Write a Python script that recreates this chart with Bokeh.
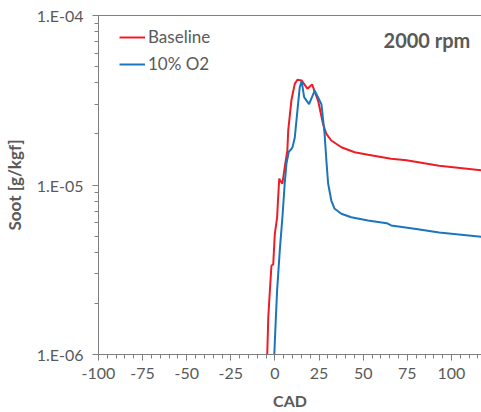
from bokeh.plotting import figure
from bokeh.models import (FixedTicker, CustomJSTickFormatter, Legend, LegendItem,
                          Label, Span, Range1d)
from bokeh.embed import file_html
from bokeh.resources import INLINE

# ---- data ----
baseline_cad = [-4.4, -3.8, -2.9, -2.0, -1.0, -0.1, 1.2, 1.8, 2.4, 3.3, 4.2, 5.5, 7.0, 7.5,
                9.3, 11.2, 12.7, 15.0, 18.4, 21.0, 24.4, 27.2, 29.1, 31.9, 37.6, 45.1,
                52.7, 65.8, 74.5, 93, 117]
baseline_soot = [1.0e-6, 1.66e-6, 2.39e-6, 3.35e-6, 3.4e-6, 5.15e-6, 6.45e-6, 8.5e-6,
                 1.09e-5, 1.05e-5, 1.02e-5, 1.27e-5, 1.6e-5, 2.1e-5, 3.16e-5, 3.95e-5,
                 4.18e-5, 4.14e-5, 3.7e-5, 3.92e-5, 3.15e-5, 2.3e-5, 2.0e-5, 1.83e-5,
                 1.67e-5, 1.56e-5, 1.51e-5, 1.43e-5, 1.4e-5, 1.3e-5, 1.22e-5]

o2_cad = [-0.4, 0.5, 1.2, 2.7, 4.2, 5.5, 6.5, 7.8, 9.3, 9.9, 11.2, 12.7, 14.0, 15.1, 16.5,
          19.3, 22.5, 24.0, 26.3, 28.1, 29.1, 30.1, 31.9, 33.8, 37.6, 43.2, 52.7, 63.3,
          65.8, 80, 93, 117]
o2_soot = [1.0e-6, 1.66e-6, 2.39e-6, 4.1e-6, 6.45e-6, 1.02e-5, 1.34e-5, 1.57e-5, 1.63e-5,
           1.67e-5, 1.9e-5, 2.75e-5, 3.77e-5, 4.1e-5, 3.3e-5, 3.0e-5, 3.6e-5, 3.35e-5,
           3.0e-5, 2.0e-5, 1.4e-5, 1.02e-5, 8.1e-6, 7.24e-6, 6.77e-6, 6.45e-6, 6.18e-6,
           5.95e-6, 5.77e-6, 5.5e-6, 5.25e-6, 4.94e-6]

series_names = ["Baseline", "10% O2"]
x_major_ticks = [-100, -75, -50, -25, 0, 25, 50, 75, 100]
y_major_ticks = [1e-6, 1e-5, 1e-4]

GRAY = "#595959"
FONT = "Lato"

p = figure(width=481, height=412, y_axis_type="log", output_backend="svg",
           toolbar_location=None, x_range=Range1d(-100, 117),
           y_range=Range1d(1e-6, 1e-4),
           min_border_left=96, min_border_right=0, min_border_top=15,
           min_border_bottom=58)
p.outline_line_color = None
p.grid.visible = False
p.background_fill_color = "white"

r1 = p.line(baseline_cad, baseline_soot, line_color="#EE1C25", line_width=2)
r2 = p.line(o2_cad, o2_soot, line_color="#1B75BC", line_width=2)

# top border
p.add_layout(Span(location=1e-4, dimension="width", line_color="black", line_width=1))

# x axis
xa = p.xaxis[0]
xa.ticker = FixedTicker(ticks=x_major_ticks,
                        minor_ticks=list(range(-100, 120, 5)))
xa.formatter = CustomJSTickFormatter(code="return String(Math.round(tick));")
xa.axis_label = "CAD"
for ax in (p.xaxis[0], p.yaxis[0]):
    ax.axis_line_color = "#7f7f7f"
    ax.major_tick_line_color = "#7f7f7f"
    ax.minor_tick_line_color = "#7f7f7f"
    ax.major_tick_in = 0
    ax.minor_tick_in = 0
    ax.major_tick_out = 6
    ax.minor_tick_out = 4
    ax.major_label_text_font = FONT
    ax.major_label_text_font_size = "16px"
    ax.major_label_text_color = GRAY
    ax.axis_label_text_font = FONT
    ax.axis_label_text_font_size = "16px"
    ax.axis_label_text_font_style = "bold"
    ax.axis_label_text_color = GRAY
xa.major_label_standoff = 7
xa.axis_label_standoff = 9

ya = p.yaxis[0]
minor_y = [k * 10.0 ** d for d in (-6, -5) for k in range(2, 10)]
ya.ticker = FixedTicker(ticks=y_major_ticks, minor_ticks=minor_y)
ya.formatter = CustomJSTickFormatter(code="""
    const e = Math.round(Math.log10(tick));
    const s = String(Math.abs(e)).padStart(2, '0');
    return '1.E' + (e < 0 ? '-' : '+') + s;
""")
ya.axis_label = "Soot [g/kgf]"
ya.axis_label_text_font_size = "17px"
ya.major_label_standoff = 9
ya.axis_label_standoff = 9

legend = Legend(items=[LegendItem(label=series_names[0], renderers=[r1]),
                       LegendItem(label=series_names[1], renderers=[r2])],
                location=(21, 280), orientation="vertical")
legend.label_text_font = FONT
legend.label_text_font_size = "17px"
legend.label_text_color = GRAY
legend.glyph_width = 26
legend.glyph_height = 20
legend.label_height = 20
legend.spacing = 6
legend.label_standoff = 3
legend.padding = 0
legend.margin = 0
legend.border_line_color = None
legend.background_fill_alpha = 0
p.add_layout(legend)

p.add_layout(Label(x=61.5, y=6.1e-5, text="2000 rpm", text_font=FONT,
                   text_font_size="20px", text_font_style="bold",
                   text_color=GRAY, text_baseline="bottom"))

open("out.html", "w").write(file_html(p, INLINE))
